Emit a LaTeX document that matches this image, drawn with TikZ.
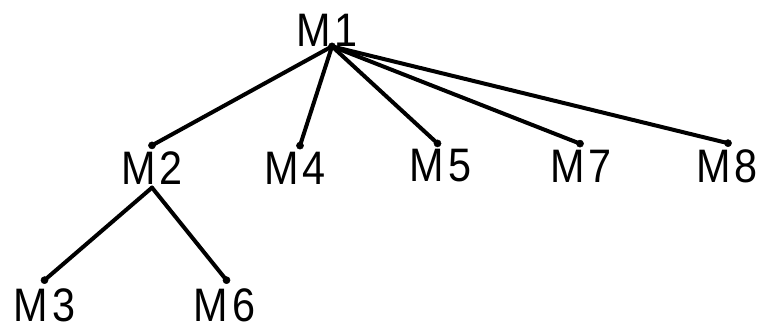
\documentclass[tikz,border=0pt]{standalone}
\usepackage{fontspec}
\setmainfont{Liberation Sans}[FakeStretch=0.88,LetterSpace=9]

\def \pointSize {3.6pt}

\begin{document}
\begin{tikzpicture}[x=1pt,y=-1pt,
      lbl/.style={font=\fontsize{47}{47}\selectfont, inner xsep=0pt, inner ysep=1pt},
      link/.style={line width=4pt, line cap=round}]
         \useasboundingbox (0,0) rectangle (763,329);
         \node[lbl] (m1) at (327,30) {M1};
         \node[lbl] (m2) at (152,168) {M2};
         \node[lbl] (m4) at (295,168) {M4};
         \node[lbl] (m5) at (440.5,166) {M5};
         \node[lbl] (m7) at (581,166) {M7};
         \node[lbl] (m8) at (727,166) {M8};
         \node[lbl] (m3) at (44.5,305) {M3};
         \node[lbl] (m6) at (224.5,305) {M6};
         \coordinate (hub1) at ([xshift=5pt,yshift=1pt]m1.south);
         \coordinate (hub2) at ([xshift=0pt,yshift=-2pt]m2.south);
         \foreach \child/\dx in {m2/0, m4/5, m5/-3, m7/-1, m8/1} {
            \draw[link] (hub1) -- ([xshift=\dx pt,yshift=5pt]\child.north);
            \filldraw ([xshift=\dx pt,yshift=5pt]\child.north) circle (\pointSize);
         }
         \foreach \child/\dx in {m3/0, m6/2} {
            \draw[link] (hub2) -- ([xshift=\dx pt,yshift=7pt]\child.north);
            \filldraw ([xshift=\dx pt,yshift=7pt]\child.north) circle (\pointSize);
         }
         \filldraw (hub1) circle (\pointSize);
\end{tikzpicture}
\end{document}
